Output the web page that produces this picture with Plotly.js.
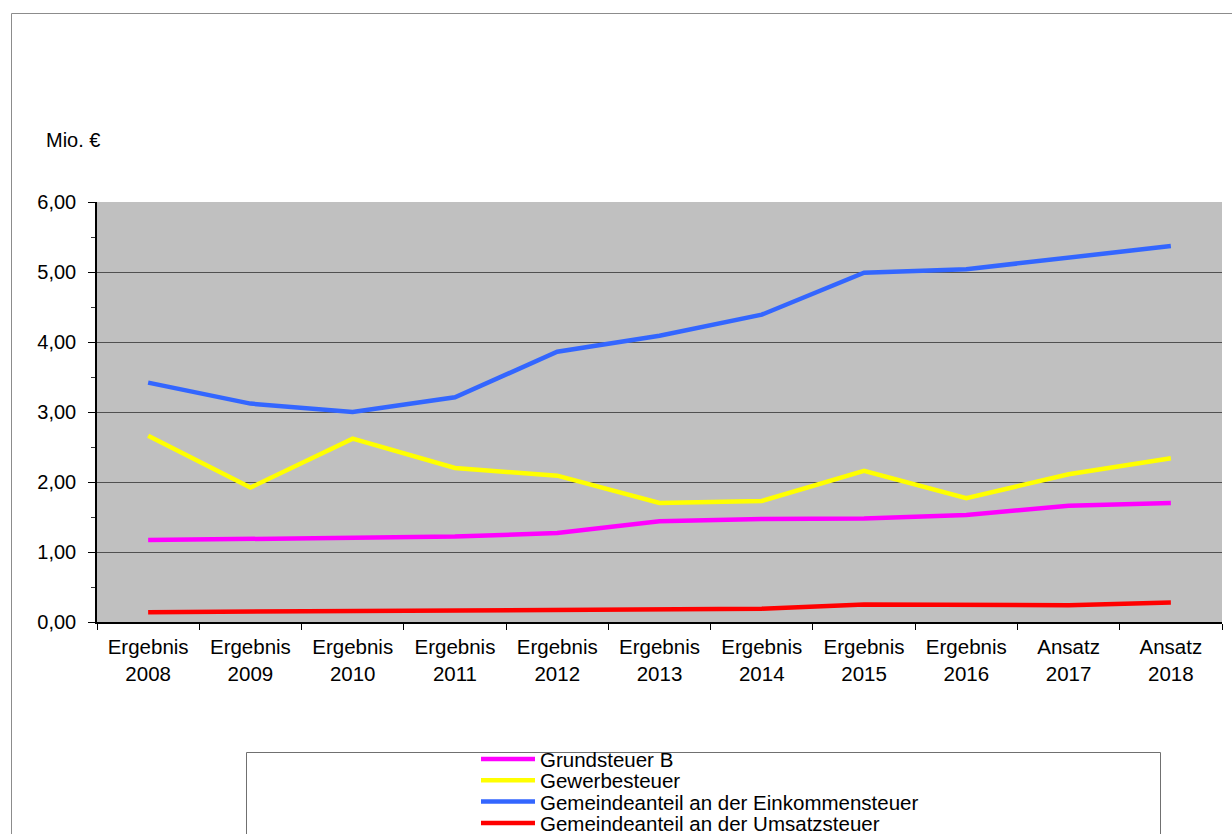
<!DOCTYPE html>
<html lang="de">
<head>
<meta charset="utf-8">
<title>Steuereinnahmen 2008–2018</title>
<script src="https://cdn.plot.ly/plotly-3.0.1.min.js"></script>
<style>
  html, body { margin: 0; padding: 0; background: #ffffff; }
  #chart { width: 1232px; height: 834px; }
</style>
</head>
<body>
<div id="chart"></div>
<script>
// Haushaltsjahre (Ergebnis = Ist-Werte, Ansatz = Planwerte)
const periods = [
  'Ergebnis<br>2008', 'Ergebnis<br>2009', 'Ergebnis<br>2010', 'Ergebnis<br>2011',
  'Ergebnis<br>2012', 'Ergebnis<br>2013', 'Ergebnis<br>2014', 'Ergebnis<br>2015',
  'Ergebnis<br>2016', 'Ansatz<br>2017', 'Ansatz<br>2018'
];

// Einnahmen in Mio. €
const grundsteuerB    = [1.17, 1.19, 1.20, 1.22, 1.27, 1.44, 1.47, 1.48, 1.53, 1.66, 1.70];
const gewerbesteuer   = [2.66, 1.92, 2.62, 2.20, 2.09, 1.70, 1.73, 2.16, 1.77, 2.11, 2.34];
const einkommensteuer = [3.42, 3.12, 3.00, 3.21, 3.86, 4.09, 4.39, 4.99, 5.04, 5.20, 5.37];
const umsatzsteuer    = [0.14, 0.15, 0.15, 0.16, 0.18, 0.19, 0.19, 0.25, 0.25, 0.24, 0.28];

const seriesNames = [
  'Grundsteuer B',
  'Gewerbesteuer',
  'Gemeindeanteil an der Einkommensteuer',
  'Gemeindeanteil an der Umsatzsteuer'
];
const seriesValues = [grundsteuerB, gewerbesteuer, einkommensteuer, umsatzsteuer];
const seriesColors = ['#FF00FF', '#FFFF00', '#3366FF', '#FF0000'];

const yTickVals = [0, 1, 2, 3, 4, 5, 6];

const FONT = 'Liberation Sans, Arial, Helvetica, sans-serif';

// Figure geometry (px)
const W = 1232, H = 834;
const PLOT_L = 97, PLOT_R = 1222, PLOT_T = 202, PLOT_B = 622;

// Each series gets its own one-entry legend so the rows sit tightly stacked
const legendIds = ['legend', 'legend2', 'legend3', 'legend4'];
const LEGEND_X = 476;          // left edge of the legend entries
const LEGEND_ROW0 = 759;       // centre of the first legend row
const LEGEND_STEP = 21.3;      // row pitch
const LEGEND_FONT = 20.5;
const itemHalf = (LEGEND_FONT * 1.3 + 3) / 2 + 5;

const traces = seriesValues.map((vals, i) => ({
  type: 'scatter',
  mode: 'lines',
  name: seriesNames[i],
  legend: legendIds[i],
  x: periods,
  y: vals,
  line: { color: seriesColors[i], width: 4.5, shape: 'linear' },
  hoverinfo: 'x+y+name'
}));

const layout = {
  width: W,
  height: H,
  margin: { l: PLOT_L, r: W - PLOT_R, t: PLOT_T, b: H - PLOT_B, pad: 0, autoexpand: false },
  paper_bgcolor: '#ffffff',
  plot_bgcolor: '#C0C0C0',
  separators: ',.',
  font: { family: FONT, size: 20, color: '#000000' },
  showlegend: true,
  xaxis: {
    type: 'category',
    range: [-0.5, periods.length - 0.5],
    tickson: 'boundaries',
    ticks: 'outside',
    ticklen: 6,
    tickcolor: '#000000',
    tickwidth: 1,
    ticklabelstandoff: 6,
    showline: true,
    linecolor: '#000000',
    linewidth: 1.5,
    showgrid: false,
    zeroline: false,
    tickfont: { family: FONT, size: 20.5, color: '#000000' },
    fixedrange: true
  },
  yaxis: {
    range: [0, 6],
    tickmode: 'array',
    tickvals: yTickVals,
    tickformat: '.2f',
    ticks: 'outside',
    ticklen: 7,
    tickcolor: '#000000',
    tickwidth: 1,
    ticklabelstandoff: 8,
    minor: { dtick: 0.5, ticks: 'outside', ticklen: 4, tickcolor: '#333333', showgrid: false },
    showline: true,
    linecolor: '#000000',
    linewidth: 1.5,
    showgrid: true,
    gridcolor: '#505050',
    gridwidth: 1,
    zeroline: false,
    tickfont: { family: FONT, size: 20, color: '#000000' },
    fixedrange: true
  },
  annotations: [
    {
      text: 'Mio. €',
      xref: 'paper', yref: 'paper',
      x: (44 - PLOT_L) / (PLOT_R - PLOT_L),
      y: (PLOT_B - 140) / (PLOT_B - PLOT_T),
      xanchor: 'left', yanchor: 'middle',
      showarrow: false,
      font: { family: FONT, size: 20, color: '#000000' }
    }
  ],
  shapes: [
    // outer frame of the chart object
    {
      type: 'rect', xref: 'paper', yref: 'paper',
      x0: (11.5 - PLOT_L) / (PLOT_R - PLOT_L), x1: 1.2,
      y0: -1.0, y1: (PLOT_B - 13.5) / (PLOT_B - PLOT_T),
      line: { color: '#8c8c8c', width: 1 },
      fillcolor: 'rgba(0,0,0,0)',
      layer: 'below'
    },
    // legend frame
    {
      type: 'rect', xref: 'paper', yref: 'paper',
      x0: (246.5 - PLOT_L) / (PLOT_R - PLOT_L), x1: (1160.5 - PLOT_L) / (PLOT_R - PLOT_L),
      y0: -0.7, y1: (PLOT_B - 752.5) / (PLOT_B - PLOT_T),
      line: { color: '#707070', width: 1 },
      fillcolor: 'rgba(0,0,0,0)',
      layer: 'above'
    }
  ]
};

legendIds.forEach((id, i) => {
  layout[id] = {
    orientation: 'v',
    xref: 'container', yref: 'container',
    x: LEGEND_X / W,
    xanchor: 'left',
    y: 1 - (LEGEND_ROW0 + i * LEGEND_STEP - itemHalf) / H,
    yanchor: 'top',
    bgcolor: 'rgba(0,0,0,0)',
    borderwidth: 0,
    itemwidth: 54,
    font: { family: FONT, size: LEGEND_FONT, color: '#000000' }
  };
});

Plotly.newPlot('chart', traces, layout, { displayModeBar: false, responsive: false });
</script>
</body>
</html>
